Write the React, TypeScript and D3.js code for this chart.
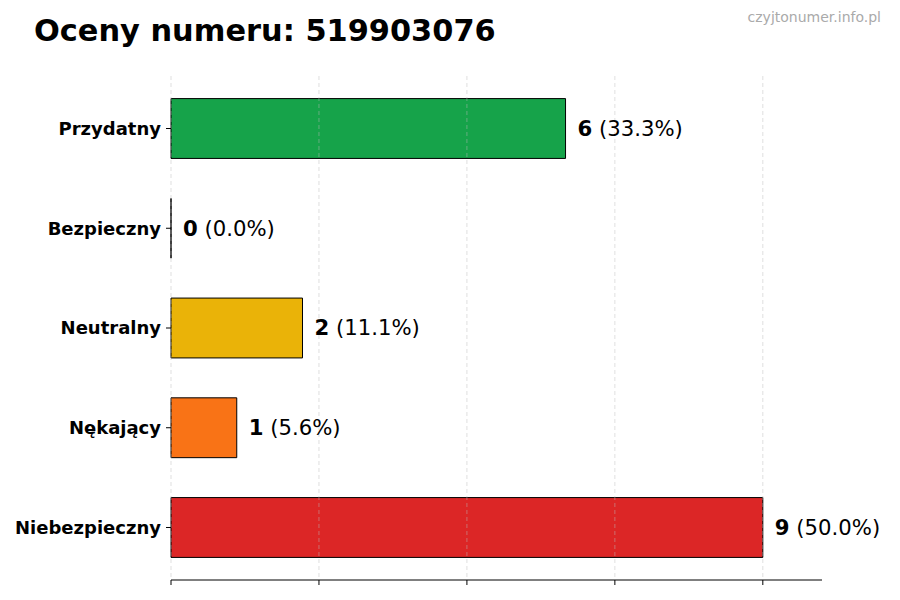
import * as d3 from "d3";

const categories = ["Przydatny", "Bezpieczny", "Neutralny", "Nękający", "Niebezpieczny"];
const counts = [6, 0, 2, 1, 9];
const percents = ["33.3%", "0.0%", "11.1%", "5.6%", "50.0%"];
const colors = ["#16a34a", "#16a34a", "#eab308", "#f97316", "#dc2626"];
const xTicks = [0, 2.25, 4.5, 6.75, 9];
const title = "Oceny numeru: 519903076";
const watermark = "czyjtonumer.info.pl";

const W = 900;
const H = 600;
const left = 171;
const right = 822;
const top = 76;
const bottom = 580;
const font = "DejaVu Sans, sans-serif";

export default function App() {
  const x = d3.scaleLinear().domain([0, 9.9]).range([left, right]);
  const y = d3
    .scaleBand<string>()
    .domain(categories)
    .range([top, bottom])
    .paddingInner(0.4)
    .paddingOuter(0.2265);

  return (
    <svg
      width={W}
      height={H}
      style={{ position: "absolute", left: 0, top: 0, background: "#fff" }}
      fontFamily={font}
    >
      <text x={34} y={41} fontSize={30.4} fontWeight="bold" fill="#000">
        {title}
      </text>
      <text x={881} y={22} fontSize={14} fill="#aaa" textAnchor="end">
        {watermark}
      </text>

      {/* Bars (drawn as paths so zero-width bars still show their edge) */}
      {categories.map((c, i) => {
        const x0 = x(0);
        const x1 = x(counts[i]);
        const y0 = y(c) ?? 0;
        const y1 = y0 + y.bandwidth();
        return (
          <path
            key={c}
            d={`M${x0},${y0}H${x1}V${y1}H${x0}Z`}
            fill={colors[i]}
            stroke="#000"
            strokeWidth={1}
          />
        );
      })}

      {/* Grid on top */}
      {xTicks.map((t) => (
        <line
          key={t}
          x1={x(t)}
          x2={x(t)}
          y1={top}
          y2={bottom}
          stroke="#bbb"
          strokeOpacity={0.6}
          strokeDasharray="4,3"
          strokeWidth={0.8}
        />
      ))}

      {/* X axis */}
      <line x1={left} x2={right} y1={bottom} y2={bottom} stroke="#000" strokeWidth={1} />
      {xTicks.map((t) => (
        <line key={t} x1={x(t)} x2={x(t)} y1={bottom} y2={bottom + 5} stroke="#000" />
      ))}

      {/* Y ticks & labels */}
      {categories.map((c) => {
        const cy = (y(c) ?? 0) + y.bandwidth() / 2;
        return (
          <g key={c}>
            <line x1={left - 5} x2={left} y1={cy} y2={cy} stroke="#000" />
            <text
              x={left - 10}
              y={cy}
              dy="0.35em"
              textAnchor="end"
              fontSize={18}
              fontWeight="bold"
              fill="#000"
            >
              {c}
            </text>
          </g>
        );
      })}

      {/* Value labels */}
      {categories.map((c, i) => {
        const cy = (y(c) ?? 0) + y.bandwidth() / 2;
        return (
          <text key={c} x={x(counts[i]) + 12} y={cy} dy="0.35em" fontSize={21.2} fill="#000">
            <tspan fontWeight="bold">{counts[i]}</tspan>
            <tspan> ({percents[i]})</tspan>
          </text>
        );
      })}
    </svg>
  );
}
